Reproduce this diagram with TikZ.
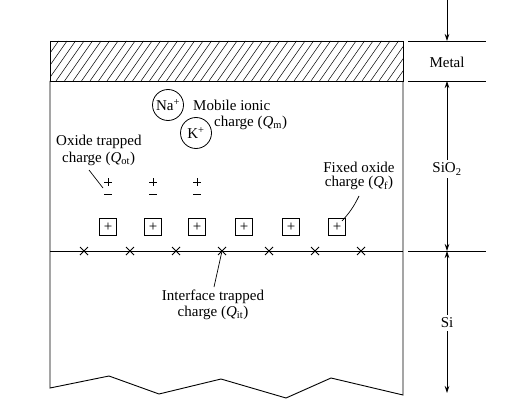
\documentclass[tikz,border=0pt]{standalone}
\usepackage{fontspec}
\setmainfont{Liberation Serif}
\usetikzlibrary{arrows.meta}
\begin{document}
\begin{tikzpicture}[x=1pt,y=-1pt,
  lbl/.style={inner sep=0pt,font=\fontsize{15}{17}\selectfont},
  ion/.style={draw,circle,minimum size=31pt,inner sep=0pt,line width=0.8pt,font=\fontsize{15}{17}\selectfont},
  fixbox/.style={draw,minimum size=17pt,inner sep=0pt,line width=0.8pt,font=\fontsize{15}{17}\selectfont},
  edge/.style={line width=0.9pt},
  leader/.style={line width=0.7pt},
  sign/.style={line width=0.7pt},
  dim/.style={line width=0.7pt,-{Stealth[length=7pt,width=4.5pt]}},
  tick/.style={line width=0.9pt},
  hatch/.style={line width=0.5pt}
]
\useasboundingbox (0,0) rectangle (505,401);

% metal hatch
\begin{scope}
  \clip (50,41) rectangle (403,81);
  \foreach \i in {0,...,45} \draw[hatch] ({22+8.5*\i},81) -- ({50+8.5*\i},41);
\end{scope}
\draw[edge] (50,41) rectangle (403,81);
\draw[edge] (50,81) -- (50,388) -- (109,376) -- (159,394) -- (221,379) -- (286,398) -- (331,378) -- (403,395) -- (403,81);
\draw[edge] (50,251) -- (403,251);

% mobile ions
\node[ion] (na) at (168,105) {Na\textsuperscript{+}};
\node[ion] (k) at (196,133) {K\textsuperscript{+}};
\node[lbl,anchor=west] (mob1) at (193,105) {Mobile ionic};
\node[lbl,anchor=west] (mob2) at (214,123) {charge ({\itshape Q}\textsubscript{m})};

% oxide trapped charges (+ over -)
\node[lbl,anchor=west] (ot1) at (56,142) {Oxide trapped};
\node[lbl,anchor=west] (ot2) at (62,159) {charge ({\itshape Q}\textsubscript{ot})};
\foreach \x/\n in {108/1,153/2,197/3} {
  \coordinate (p\n) at (\x,182);
  \coordinate (m\n) at (\x,194);
  \draw[sign] ([xshift=-4pt]p\n) -- ([xshift=4pt]p\n)
              ([yshift=4pt]p\n) -- ([yshift=-4pt]p\n)
              ([xshift=-4pt]m\n) -- ([xshift=4pt]m\n);
}
\coordinate (otstart) at (89,170);
\draw[leader] (otstart) -- ([shift={(-5pt,-6pt)}]p1);

% fixed oxide charge
\foreach \x/\n in {108/1,153/2,197/3,244/4,291/5,337/6}
  \node[fixbox] (f\n) at (\x,227) {+};
\node[lbl] (fx1) at (359,167) {Fixed oxide};
\node[lbl] (fx2) at (359,183) {charge ({\itshape Q}\textsubscript{f})};
\coordinate (fxstart) at (359,196);
\draw[leader] (fxstart) to[bend left=8] ([shift={(5pt,6pt)}]f6.center);

% interface traps
\foreach \x/\n in {84/1,130/2,176/3,222/4,269/5,315/6,361/7} {
  \coordinate (c\n) at (\x,251);
  \draw[edge] ([shift={(-4pt,-4pt)}]c\n) -- ([shift={(4pt,4pt)}]c\n)
              ([shift={(-4pt,4pt)}]c\n) -- ([shift={(4pt,-4pt)}]c\n);
}
\node[lbl] (it1) at (213,297) {Interface trapped};
\node[lbl] (it2) at (213,313) {charge ({\itshape Q}\textsubscript{it})};
\coordinate (itend) at (214,287);
\draw[leader] (c4) -- (itend);

% dimension ticks and arrows
\coordinate (t1a) at (408,41); \coordinate (t1b) at (486,41);
\coordinate (t2a) at (408,81); \coordinate (t2b) at (486,81);
\coordinate (t3a) at (408,251); \coordinate (t3b) at (486,251);
\draw[tick] (t1a) -- (t1b);
\draw[tick] (t2a) -- (t2b);
\draw[tick] (t3a) -- (t3b);

\coordinate (mtop) at (447,0);
\coordinate (d41) at (447,41);
\coordinate (d81) at (447,81);
\coordinate (d251) at (447,251);
\coordinate (dbot) at (447,393);
\node[lbl] (metal) at (447,62) {Metal};
\node[lbl] (sio2) at (447,169) {SiO\textsubscript{2}};
\node[lbl] (si) at (447,323) {Si};
\draw[dim] (mtop) -- (d41);
\draw[dim] ([yshift=3pt]sio2.north) -- (d81);
\draw[dim] ([yshift=-3pt]sio2.south) -- (d251);
\draw[dim] ([yshift=3pt]si.north) -- (d251);
\draw[dim] ([yshift=-3pt]si.south) -- (dbot);
\end{tikzpicture}
\end{document}
